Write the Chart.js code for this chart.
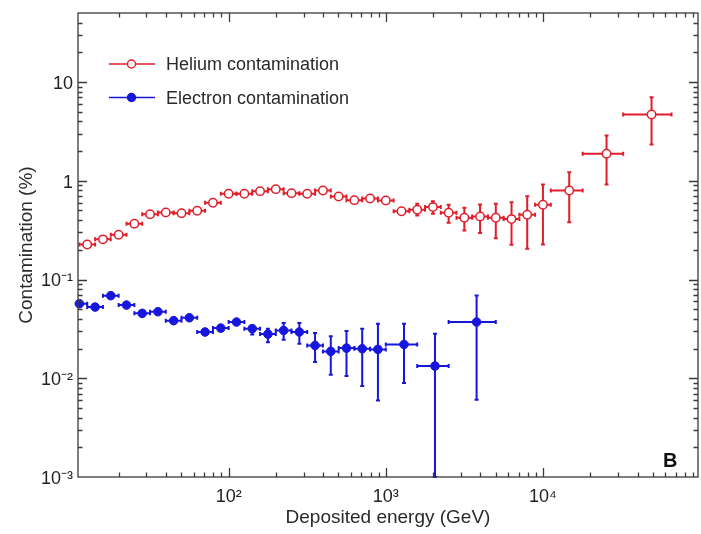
<!DOCTYPE html>
<html>
<head>
<meta charset="utf-8">
<script src="https://cdn.jsdelivr.net/npm/chart.js@4/dist/chart.umd.min.js"></script>
<style>
  html, body { margin: 0; padding: 0; background: #fff; }
  canvas { display: block; }
</style>
</head>
<body>
<canvas id="chart" width="701" height="534"></canvas>
<script>
// ---- Helium contamination (%) per deposited-energy bin (GeV) ----
const heEnergy = [12.59, 15.85, 19.95, 25.12, 31.62, 39.81, 50.12, 63.10, 79.43, 100,
  125.9, 158.5, 199.5, 251.2, 316.2, 398.1, 501.2, 631.0, 794.3, 1000,
  1259, 1585, 1995, 2512, 3162, 3981, 5012, 6310, 7943, 10000,
  14700, 25400, 49100];
const heBinLow = [11.22, 14.13, 17.78, 22.39, 28.18, 35.48, 44.67, 56.23, 70.79, 89.13,
  112.2, 141.3, 177.8, 223.9, 281.8, 354.8, 446.7, 562.3, 707.9, 891.3,
  1122, 1413, 1778, 2239, 2818, 3548, 4467, 5623, 7079, 8913,
  11220, 17900, 32400];
const heBinHigh = [14.13, 17.78, 22.39, 28.18, 35.48, 44.67, 56.23, 70.79, 89.13, 112.2,
  141.3, 177.8, 223.9, 281.8, 354.8, 446.7, 562.3, 707.9, 891.3, 1122,
  1413, 1778, 2239, 2818, 3548, 4467, 5623, 7079, 8913, 11220,
  17900, 32400, 65800];
const heValue = [0.226, 0.255, 0.284, 0.367, 0.459, 0.478, 0.470, 0.497, 0.599, 0.738,
  0.738, 0.785, 0.822, 0.749, 0.738, 0.798, 0.694, 0.636, 0.662, 0.632,
  0.492, 0.508, 0.541, 0.474, 0.422, 0.435, 0.422, 0.409, 0.453, 0.572,
  0.798, 1.88, 4.69];
const heErrLow = [0.210, 0.240, 0.270, 0.352, 0.442, 0.460, 0.452, 0.478, 0.578, 0.714,
  0.714, 0.760, 0.796, 0.724, 0.712, 0.770, 0.668, 0.610, 0.634, 0.602,
  0.456, 0.445, 0.464, 0.376, 0.314, 0.295, 0.262, 0.225, 0.205, 0.226,
  0.381, 0.918, 2.33];
const heErrHigh = [0.243, 0.270, 0.300, 0.383, 0.476, 0.496, 0.488, 0.516, 0.620, 0.762,
  0.762, 0.810, 0.848, 0.774, 0.764, 0.826, 0.720, 0.662, 0.690, 0.662,
  0.530, 0.585, 0.622, 0.572, 0.533, 0.575, 0.585, 0.607, 0.698, 0.918,
  1.22, 2.88, 7.02];

// ---- Electron contamination (%) per deposited-energy bin (GeV) ----
const elEnergy = [11.22, 14.13, 17.78, 22.39, 28.18, 35.48, 44.67, 56.23, 70.79, 89.13,
  112.2, 141.3, 177.8, 223.9, 281.8, 354.8, 446.7, 562.3, 707.9, 891.3,
  1306, 2056, 3784];
const elBinLow = [10, 12.59, 15.85, 19.95, 25.12, 31.62, 39.81, 50.12, 63.10, 79.43,
  100, 125.9, 158.5, 199.5, 251.2, 316.2, 398.1, 501.2, 631.0, 794.3,
  1000, 1585, 2512];
const elBinHigh = [12.59, 15.85, 19.95, 25.12, 31.62, 39.81, 50.12, 63.10, 79.43, 100,
  125.9, 158.5, 199.5, 251.2, 316.2, 398.1, 501.2, 631.0, 794.3, 1000,
  1585, 2512, 5012];
const elValue = [0.0569, 0.0526, 0.0686, 0.0551, 0.0454, 0.0472, 0.0383, 0.0410, 0.0294, 0.0322,
  0.0371, 0.0318, 0.0280, 0.0305, 0.0294, 0.0215, 0.0187, 0.0202, 0.0199, 0.0196,
  0.0220, 0.0133, 0.0371];
const elErrLow = [0.0541, 0.0500, 0.0652, 0.0523, 0.0431, 0.0448, 0.0364, 0.0390, 0.0279, 0.0306,
  0.0350, 0.0278, 0.0232, 0.0246, 0.0224, 0.0146, 0.01087, 0.01053, 0.00834, 0.00597,
  0.00894, 0.001, 0.00607];
const elErrHigh = [0.0598, 0.0552, 0.0720, 0.0579, 0.0477, 0.0496, 0.0402, 0.0430, 0.0309, 0.0338,
  0.0392, 0.0337, 0.0318, 0.0362, 0.0362, 0.0287, 0.0266, 0.0301, 0.0318, 0.0357,
  0.0357, 0.0283, 0.069];

// ---- Axis ranges and labels ----
const xRange = [11, 97000];
const yRange = [0.001, 50];
const xTitle = 'Deposited energy (GeV)';
const yTitle = 'Contamination (%)';
const heLabel = 'Helium contamination';
const elLabel = 'Electron contamination';
const panelTag = 'B';

const RED = '#e01e2b';
const BLUE = '#1616dc';
const AXIS = '#3a3a3a';
const FONT = "'Liberation Sans', Arial, Helvetica, sans-serif";

const SUP = {'-': '\u207B', '0': '\u2070', '1': '\u00B9', '2': '\u00B2', '3': '\u00B3',
  '4': '\u2074', '5': '\u2075', '6': '\u2076', '7': '\u2077', '8': '\u2078', '9': '\u2079'};

// Label only the decades, written as powers of ten
function decadeLabel(v) {
  const lg = Math.log10(v);
  const e = Math.round(lg);
  if (Math.abs(lg - e) > 1e-6) return '';
  if (e === 0) return '1';
  if (e === 1) return '10';
  return '10' + String(e).split('').map(c => SUP[c]).join('');
}

function points(xs, ys) {
  return xs.map((x, i) => ({ x: x, y: ys[i] }));
}

// Horizontal bars span the energy bin, vertical bars the uncertainty
const errorBars = {
  id: 'errorBars',
  beforeDatasetsDraw(chart) {
    const { ctx, chartArea: a, scales: { x, y } } = chart;
    ctx.save();
    ctx.beginPath();
    ctx.rect(a.left, a.top - 1, a.right - a.left, a.bottom - a.top + 2);
    ctx.clip();
    chart.data.datasets.forEach(ds => {
      ctx.strokeStyle = ds.borderColor;
      ctx.lineWidth = 2;
      const cap = 2;
      ds.data.forEach((p, i) => {
        const px = x.getPixelForValue(p.x);
        const py = y.getPixelForValue(p.y);
        const xl = x.getPixelForValue(ds.binLow[i]);
        const xh = x.getPixelForValue(ds.binHigh[i]);
        const yl = y.getPixelForValue(ds.errLow[i]);
        const yh = y.getPixelForValue(ds.errHigh[i]);
        ctx.beginPath();
        ctx.moveTo(xl, py); ctx.lineTo(xh, py);
        ctx.moveTo(px, yl); ctx.lineTo(px, yh);
        ctx.moveTo(xl, py - cap); ctx.lineTo(xl, py + cap);
        ctx.moveTo(xh, py - cap); ctx.lineTo(xh, py + cap);
        ctx.moveTo(px - cap, yl); ctx.lineTo(px + cap, yl);
        ctx.moveTo(px - cap, yh); ctx.lineTo(px + cap, yh);
        ctx.stroke();
      });
    });
    ctx.restore();
  }
};

// Frame with inward log ticks on all four sides, legend and panel tag
const frameTicks = {
  id: 'frameTicks',
  afterDraw(chart) {
    const { ctx, chartArea: a, scales: { x, y } } = chart;
    ctx.save();
    ctx.strokeStyle = AXIS;
    ctx.lineWidth = 1.3;
    ctx.strokeRect(a.left, a.top, a.right - a.left, a.bottom - a.top);
    ctx.beginPath();
    for (let e = -4; e <= 6; e++) {
      for (let m = 1; m <= 9; m++) {
        const v = m * Math.pow(10, e);
        const len = m === 1 ? 9 : 4.5;
        if (v > x.min && v < x.max) {
          const px = Math.round(x.getPixelForValue(v)) + 0.5;
          ctx.moveTo(px, a.bottom); ctx.lineTo(px, a.bottom - len);
          ctx.moveTo(px, a.top); ctx.lineTo(px, a.top + len);
        }
        if (v > y.min && v < y.max) {
          const py = Math.round(y.getPixelForValue(v)) + 0.5;
          ctx.moveTo(a.left, py); ctx.lineTo(a.left + len, py);
          ctx.moveTo(a.right, py); ctx.lineTo(a.right - len, py);
        }
      }
    }
    ctx.stroke();

    // legend in the upper left corner of the plot
    const rows = [64, 97.5];
    chart.data.datasets.forEach((ds, i) => {
      const yy = rows[i];
      ctx.strokeStyle = ds.borderColor;
      ctx.lineWidth = 1.6;
      ctx.beginPath();
      ctx.moveTo(109, yy); ctx.lineTo(155, yy);
      ctx.stroke();
      ctx.beginPath();
      ctx.arc(131.5, yy, 4, 0, Math.PI * 2);
      ctx.fillStyle = ds.backgroundColor;
      ctx.fill();
      ctx.lineWidth = 1.4;
      ctx.stroke();
      ctx.fillStyle = '#2a2a2a';
      ctx.font = '18px ' + FONT;
      ctx.textAlign = 'left';
      ctx.textBaseline = 'middle';
      ctx.fillText(ds.label, 166, yy + 1.5);
    });

    ctx.fillStyle = '#111';
    ctx.font = 'bold 20px ' + FONT;
    ctx.textAlign = 'left';
    ctx.textBaseline = 'alphabetic';
    ctx.fillText(panelTag, 663, 467);
    ctx.restore();
  }
};

new Chart(document.getElementById('chart'), {
  type: 'scatter',
  data: {
    datasets: [
      {
        label: heLabel,
        data: points(heEnergy, heValue),
        binLow: heBinLow, binHigh: heBinHigh,
        errLow: heErrLow, errHigh: heErrHigh,
        borderColor: RED,
        backgroundColor: '#ffffff',
        pointRadius: 4.2,
        pointBorderWidth: 1.5,
        clip: false
      },
      {
        label: elLabel,
        data: points(elEnergy, elValue),
        binLow: elBinLow, binHigh: elBinHigh,
        errLow: elErrLow, errHigh: elErrHigh,
        borderColor: BLUE,
        backgroundColor: BLUE,
        pointRadius: 4.3,
        pointBorderWidth: 1,
        clip: false
      }
    ]
  },
  options: {
    responsive: false,
    animation: false,
    devicePixelRatio: 1,
    layout: { autoPadding: false, padding: { top: 13, right: 3, left: 0, bottom: 0 } },
    plugins: {
      legend: { display: false },
      tooltip: { enabled: false }
    },
    scales: {
      x: {
        type: 'logarithmic',
        min: xRange[0], max: xRange[1],
        grid: { display: false, drawTicks: false },
        border: { display: false },
        ticks: {
          autoSkip: false, maxRotation: 0, minRotation: 0,
          padding: 9, color: '#222',
          font: { family: FONT, size: 18 },
          callback: v => decadeLabel(v)
        },
        title: {
          display: true, text: xTitle, color: '#2a2a2a',
          font: { family: FONT, size: 19 },
          padding: { top: 0, bottom: 4.5 }
        },
        afterFit: s => { s.height = 57; s.paddingLeft = 0; s.paddingRight = 0; }
      },
      y: {
        type: 'logarithmic',
        min: yRange[0], max: yRange[1],
        grid: { display: false, drawTicks: false },
        border: { display: false },
        ticks: {
          autoSkip: false, padding: 5, color: '#222',
          labelOffset: 2,
          font: { family: FONT, size: 18 },
          callback: v => decadeLabel(v)
        },
        title: {
          display: true, text: yTitle, color: '#2a2a2a',
          font: { family: FONT, size: 19 },
          padding: { top: 15, bottom: 0 }
        },
        afterFit: s => { s.width = 78; s.paddingTop = 0; s.paddingBottom = 0; }
      }
    }
  },
  plugins: [errorBars, frameTicks]
});
</script>
</body>
</html>
